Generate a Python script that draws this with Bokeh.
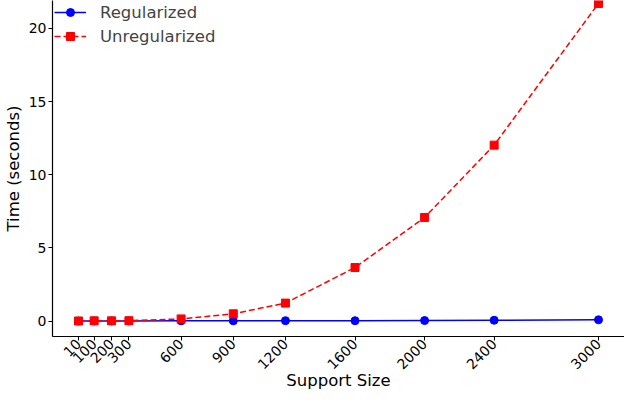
import math
from bokeh.plotting import figure
from bokeh.models import FixedTicker, Range1d
from bokeh.embed import file_html
from bokeh.resources import INLINE

support_sizes = [10, 100, 200, 300, 600, 900, 1200, 1600, 2000, 2400, 3000]
regularized = [0.005, 0.01, 0.01, 0.01, 0.02, 0.02, 0.03, 0.03, 0.04, 0.06, 0.09]
unregularized = [0.01, 0.02, 0.02, 0.03, 0.15, 0.5, 1.23, 3.66, 7.08, 12.02, 21.7]
y_ticks = [0, 5, 10, 15, 20]

FONT = "DejaVu Sans"

p = figure(width=624, height=392, output_backend="svg", toolbar_location=None,
           x_range=Range1d(-139.5, 3149.5), y_range=Range1d(-1.05, 21.9),
           min_border_top=0, min_border_right=0, min_border_left=0, min_border_bottom=0)
p.outline_line_color = None
p.xgrid.visible = False
p.ygrid.visible = False

p.line(support_sizes, regularized, line_color="#0000ff", line_width=1.5, legend_label="Regularized")
p.scatter(support_sizes, regularized, marker="circle", size=8, fill_color="#0000ff",
          line_color="#0000ff", legend_label="Regularized")
p.line(support_sizes, unregularized, line_color="#ff0000", line_width=1.5, line_dash="6 3",
       legend_label="Unregularized")
p.scatter(support_sizes, unregularized, marker="square", size=8, fill_color="#ff0000",
          line_color="#ff0000", legend_label="Unregularized")

for ax in (p.xaxis[0], p.yaxis[0]):
    ax.axis_line_color = "black"
    ax.axis_line_width = 1.2
    ax.major_tick_line_color = "black"
    ax.major_tick_out = 4
    ax.major_tick_in = 0
    ax.minor_tick_out = 0
    ax.minor_tick_in = 0
    ax.major_label_text_font = FONT
    ax.major_label_text_font_size = "14px"
    ax.major_label_text_color = "black"
    ax.axis_label_text_font = FONT
    ax.axis_label_text_font_size = "16.5px"
    ax.axis_label_text_font_style = "normal"
    ax.axis_label_text_color = "black"
    ax.major_label_standoff = 2
    ax.axis_label_standoff = 3

p.xaxis[0].axis_label_standoff = -6
p.xaxis[0].major_label_standoff = 1

p.xaxis.ticker = FixedTicker(ticks=support_sizes)
p.yaxis.ticker = FixedTicker(ticks=y_ticks)
p.xaxis.major_label_orientation = math.pi / 4
p.xaxis.axis_label = "Support Size"
p.yaxis.axis_label = "Time (seconds)"

p.legend.location = "top_left"
p.legend.margin = 0
p.legend.padding = 2
p.legend.spacing = 4
p.legend.label_height = 20
p.legend.glyph_height = 20
p.legend.glyph_width = 32
p.legend.label_standoff = 14
p.legend.label_text_font = FONT
p.legend.label_text_font_size = "16.5px"
p.legend.border_line_alpha = 0
p.legend.background_fill_alpha = 0

open("out.html", "w").write(file_html(p, INLINE))
